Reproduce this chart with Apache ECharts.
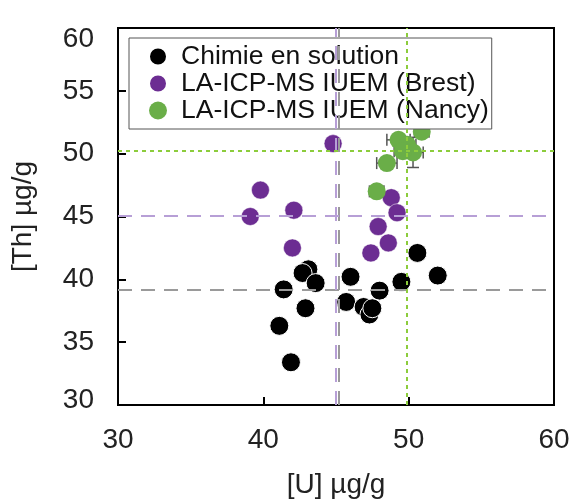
<!DOCTYPE html>
<html>
<head>
<meta charset="utf-8">
<script src="https://cdn.jsdelivr.net/npm/echarts@6/dist/echarts.min.js"></script>
<style>
html,body{margin:0;padding:0;background:#fff;}
#chart{width:573px;height:504px;}
</style>
</head>
<body>
<div id="chart"></div>
<script>
var seriesNames = ['Chimie en solution', 'LA-ICP-MS IUEM (Brest)', 'LA-ICP-MS IUEM (Nancy)'];
var xTicks = [30, 40, 50, 60];
var yTicks = [30, 35, 40, 45, 50, 55, 60];

var blackU  = [43.1, 42.7, 43.6, 41.4, 42.9, 41.1, 41.9, 46.0, 45.7, 46.9, 47.3, 47.5, 48.0, 49.5, 50.6, 52.0];
var blackTh = [40.8, 40.5, 39.7, 39.2, 37.7, 36.3, 33.4, 40.2, 38.2, 37.8, 37.2, 37.7, 39.1, 39.8, 42.1, 40.3];

var purpleU  = [39.8, 39.1, 42.1, 42.0, 48.8, 49.2, 47.9, 48.6, 47.4, 44.8];
var purpleTh = [47.1, 45.0, 45.5, 42.5, 46.5, 45.3, 44.2, 42.9, 42.1, 50.8];

var greenU    = [47.8, 48.5, 49.3, 49.9, 50.3, 49.6, 50.9];
var greenTh   = [47.0, 49.25, 51.1, 50.7, 50.1, 50.2, 51.75];
var greenUErr = [0.5, 0.7, 0.8, 0.6, 0.7, 0.6, 0.5];
var greenThErr= [0, 0, 0, 0, 1.2, 0, 0];

var refU  = {black: 45.2, purple: 45.0, green: 49.9};
var refTh = {black: 39.2, purple: 45.05, green: 50.2};

function pairs(a, b) { return a.map(function (v, i) { return [v, b[i]]; }); }

var colBlack = '#000000', colPurple = '#6c2d92', colGreen = '#6aae48';
var lineGray = '#9a9a9a', linePurple = '#b79fd6', lineGreen = '#8ccc3c';

var chart = echarts.init(document.getElementById('chart'));
var FONT = 'Liberation Sans, Arial, sans-serif';

var errData = greenU.map(function (u, i) { return [u, greenTh[i], greenUErr[i], greenThErr[i]]; });

chart.setOption({
  animation: false,
  backgroundColor: '#ffffff',
  textStyle: {fontFamily: FONT},
  grid: {left: 118, right: 19, top: 28, bottom: 93, show: true, borderColor: '#000', borderWidth: 2, backgroundColor: 'transparent'},
  legend: {
    orient: 'vertical', left: 129, top: 38,
    data: seriesNames,
    icon: 'circle', itemWidth: 18, itemHeight: 18, itemGap: 0,
    borderColor: '#555', borderWidth: 1,
    padding: [5, 3, 5, 19],
    backgroundColor: '#fff',
    textStyle: {fontSize: 26.5, color: '#111', lineHeight: 25, padding: [0, 0, 0, 9], fontFamily: FONT}
  },
  xAxis: {
    type: 'value', min: xTicks[0], max: xTicks[xTicks.length - 1], interval: 10,
    name: '[U] µg/g', nameLocation: 'middle', nameGap: 66,
    nameTextStyle: {fontSize: 28, color: '#222', fontFamily: FONT},
    axisLine: {show: true, lineStyle: {color: '#000', width: 2}},
    axisTick: {show: true, inside: true, length: 8, lineStyle: {color: '#000', width: 2}},
    axisLabel: {fontSize: 28, color: '#222', margin: 21, fontFamily: FONT},
    splitLine: {show: false}
  },
  yAxis: {
    type: 'value', min: yTicks[0], max: yTicks[yTicks.length - 1], interval: 5,
    name: '[Th] µg/g', nameLocation: 'middle', nameGap: 81, nameRotate: 90,
    nameTextStyle: {fontSize: 28, color: '#222', fontFamily: FONT},
    axisLine: {show: true, lineStyle: {color: '#000', width: 2}},
    axisTick: {show: true, inside: true, length: 8, lineStyle: {color: '#000', width: 2}},
    axisLabel: {
      fontSize: 28, color: '#222', margin: 24, fontFamily: FONT,
      formatter: function (v) {
        if (v === 60) return '{t|' + v + '}';
        if (v === 30) return '{b|' + v + '}';
        return '{n|' + v + '}';
      },
      rich: {
        t: {fontSize: 28, color: '#222', fontFamily: FONT, padding: [22, 0, 0, 0]},
        b: {fontSize: 28, color: '#222', fontFamily: FONT, padding: [0, 0, 9, 0]},
        n: {fontSize: 28, color: '#222', fontFamily: FONT}
      }
    },
    splitLine: {show: false}
  },
  series: [
    {
      type: 'custom', name: 'errbars', silent: true, z: 1,
      renderItem: function (params, api) {
        var u = api.value(0), t = api.value(1), eu = api.value(2), et = api.value(3);
        var children = [];
        var st = {stroke: '#555', lineWidth: 1.5};
        if (eu > 0) {
          var l = api.coord([u - eu, t]), r = api.coord([u + eu, t]);
          children.push({type: 'line', shape: {x1: l[0], y1: l[1], x2: r[0], y2: r[1]}, style: st});
          children.push({type: 'line', shape: {x1: l[0], y1: l[1] - 6, x2: l[0], y2: l[1] + 6}, style: st});
          children.push({type: 'line', shape: {x1: r[0], y1: r[1] - 6, x2: r[0], y2: r[1] + 6}, style: st});
        }
        if (et > 0) {
          var b = api.coord([u, t - et]), tp = api.coord([u, t + et]);
          children.push({type: 'line', shape: {x1: b[0], y1: b[1], x2: tp[0], y2: tp[1]}, style: st});
          children.push({type: 'line', shape: {x1: b[0] - 6, y1: b[1], x2: b[0] + 6, y2: b[1]}, style: st});
          children.push({type: 'line', shape: {x1: tp[0] - 6, y1: tp[1], x2: tp[0] + 6, y2: tp[1]}, style: st});
        }
        return {type: 'group', children: children};
      },
      data: errData
    },
    {
      type: 'scatter', name: seriesNames[0], z: 3,
      symbol: 'circle', symbolSize: 19,
      itemStyle: {color: colBlack, borderColor: '#fff', borderWidth: 1, opacity: 1},
      data: pairs(blackU, blackTh),
      markLine: {
        silent: true, symbol: 'none', z: 10, label: {show: false},
        lineStyle: {color: lineGray, type: [14, 9], width: 2},
        data: [{xAxis: refU.black}, {yAxis: refTh.black}]
      }
    },
    {
      type: 'scatter', name: seriesNames[1], z: 3,
      symbol: 'circle', symbolSize: 18,
      itemStyle: {color: colPurple, borderColor: '#fff', borderWidth: 0.5, opacity: 1},
      data: pairs(purpleU, purpleTh),
      markLine: {
        silent: true, symbol: 'none', z: 10, label: {show: false},
        lineStyle: {color: linePurple, type: [14, 9], width: 2},
        data: [{xAxis: refU.purple}, {yAxis: refTh.purple}]
      }
    },
    {
      type: 'scatter', name: seriesNames[2], z: 3,
      symbol: 'circle', symbolSize: 18,
      itemStyle: {color: colGreen, opacity: 1},
      data: pairs(greenU, greenTh),
      markLine: {
        silent: true, symbol: 'none', z: 10, label: {show: false},
        lineStyle: {color: lineGreen, type: [4, 4], width: 2},
        data: [{xAxis: refU.green}, {yAxis: refTh.green}]
      }
    }
  ]
});
</script>
</body>
</html>
